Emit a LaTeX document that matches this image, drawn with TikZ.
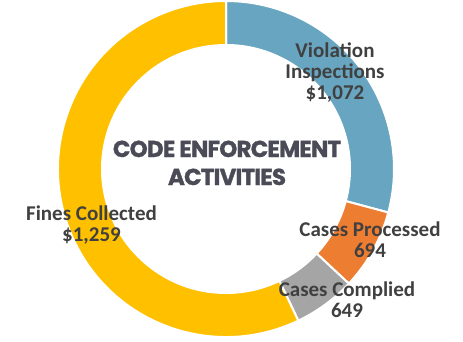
\documentclass[tikz,border=0pt]{standalone}
\usepackage{fontspec}
\setmainfont{Carlito}
\newfontfamily\titlefont[LetterSpace=-3.5,BoldFeatures={FakeBold=1.2}]{Poppins}
\definecolor{vblue}{HTML}{68A5C0}
\definecolor{vorange}{HTML}{ED7D31}
\definecolor{vgray}{HTML}{A5A5A5}
\definecolor{vyellow}{HTML}{FFC000}
\definecolor{labelc}{HTML}{404040}
\definecolor{titlec}{HTML}{4A4B57}
\begin{document}
\begin{tikzpicture}[x=1pt,y=1pt,
  seg/.style={fill=#1, draw=white, line width=2pt, line join=miter},
  lbl/.style={anchor=base, align=center, text=labelc, inner sep=0pt,
    font=\fontsize{21}{21}\selectfont\bfseries},
  ttl/.style={anchor=base, align=center, text=titlec, inner sep=0pt,
    font=\titlefont\fontsize{23}{28}\selectfont\bfseries}]
\useasboundingbox (0,0) rectangle (463,341);
\begin{scope}[shift={(226,172)}]
  \def\Ro{168}\def\Ri{124}
  \path[seg=vblue]   (90:\Ro)    arc (90:-15:\Ro)     -- (-15:\Ri)   arc (-15:90:\Ri)     -- cycle;
  \path[seg=vorange] (-15:\Ro)   arc (-15:-43:\Ro)    -- (-43:\Ri)   arc (-43:-15:\Ri)    -- cycle;
  \path[seg=vgray]   (-43:\Ro)   arc (-43:-64.5:\Ro)  -- (-64.5:\Ri) arc (-64.5:-43:\Ri)  -- cycle;
  \path[seg=vyellow] (-64.5:\Ro) arc (-64.5:-270:\Ro) -- (-270:\Ri)  arc (-270:-64.5:\Ri) -- cycle;
\end{scope}
\node[ttl] (title) at (227,156) {CODE ENFORCEMENT\\ACTIVITIES};
\node[lbl] (viol) at (335,242) {Violation\\Inspections\\\$1,072};
\node[lbl] (fines) at (91.5,100) {Fines Collected\\\$1,259};
\node[lbl] (proc) at (370,84) {Cases Processed\\694};
\node[lbl] (comp) at (347,24) {Cases Complied\\649};
\end{tikzpicture}
\end{document}
